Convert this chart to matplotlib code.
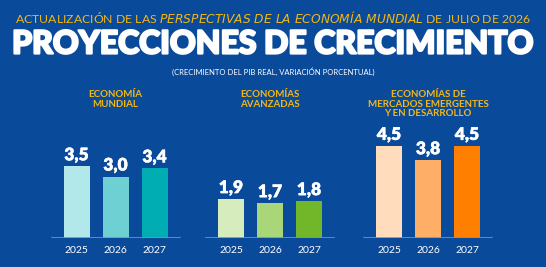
import matplotlib
matplotlib.use("Agg")
import matplotlib.pyplot as plt
import matplotlib.patheffects as pe

# data
years = ["2025", "2026", "2027"]
groups = ["ECONOMÍA\nMUNDIAL", "ECONOMÍAS\nAVANZADAS",
          "ECONOMÍAS DE\nMERCADOS EMERGENTES\nY EN DESARROLLO"]
world = [3.5, 3.0, 3.4]
advanced = [1.9, 1.7, 1.8]
emerging = [4.5, 3.8, 4.5]
values = [world, advanced, emerging]
labels = [["3,5", "3,0", "3,4"], ["1,9", "1,7", "1,8"], ["4,5", "3,8", "4,5"]]

colors = [["#b2e8ea", "#6fd0d3", "#00adb2"],
          ["#d6ecbc", "#a8d679", "#72b62a"],
          ["#fedcbc", "#feae66", "#ff7f00"]]

bg = "#0a4a9a"
yellow = "#f2b716"
W, H = 546, 267

fig = plt.figure(figsize=(W / 100, H / 100), dpi=100, facecolor=bg)
plt.rcParams['font.family'] = ['Lato', 'DejaVu Sans']

# axes in pixel-like x units, baseline at y=238 px
base = 238
ax = fig.add_axes([0, (H - base) / H, 1, 102.25 / H])
ax.set_xlim(0, W)
ax.set_ylim(0, 5)
ax.axis("off")

centers = [115.5, 270, 428]
step = 39
bw = 26
for g in range(3):
    xs = [centers[g] + (i - 1) * step for i in range(3)]
    ax.bar(xs, values[g], width=bw, color=colors[g], zorder=2)
    ax.plot([xs[0] - 25, xs[2] + 25], [0, 0], color="#6f93c8", lw=1.2, zorder=3)
    for x, v, lab, yr in zip(xs, values[g], labels[g], years):
        ax.text(x, v + 0.15, lab, ha="center", va="bottom", color="white",
                fontsize=12.5, fontweight="heavy", clip_on=False,
                path_effects=[pe.withStroke(linewidth=0.3, foreground="white")])
        ax.text(x, -0.62, yr, ha="center", va="center", color="white",
                fontsize=7.5, clip_on=False)
    fig.text(centers[g] / W, 1 - 90 / H, groups[g], ha="center", va="top",
             color=yellow, fontsize=7, fontweight="bold", linespacing=1.1)

# header
fig.text(0.5, 1 - 17 / H, "ACTUALIZACIÓN DE LAS $\\it{PERSPECTIVAS\\ DE\\ LA\\ ECONOMÍA\\ MUNDIAL}$ DE JULIO DE 2026",
         ha="center", va="center", color=yellow, fontsize=8.8)
fig.text(0.5, 1 - 44 / H, "PROYECCIONES DE CRECIMIENTO", ha="center", va="center",
         color="white", fontsize=23, fontweight="black",
         path_effects=[pe.withStroke(linewidth=1.6, foreground="white")])
fig.text(0.5, 1 - 72 / H, "(CRECIMIENTO DEL PIB REAL, VARIACIÓN PORCENTUAL)",
         ha="center", va="center", color="white", fontsize=5.5)

fig.savefig("out.png", dpi=100, facecolor=bg)
